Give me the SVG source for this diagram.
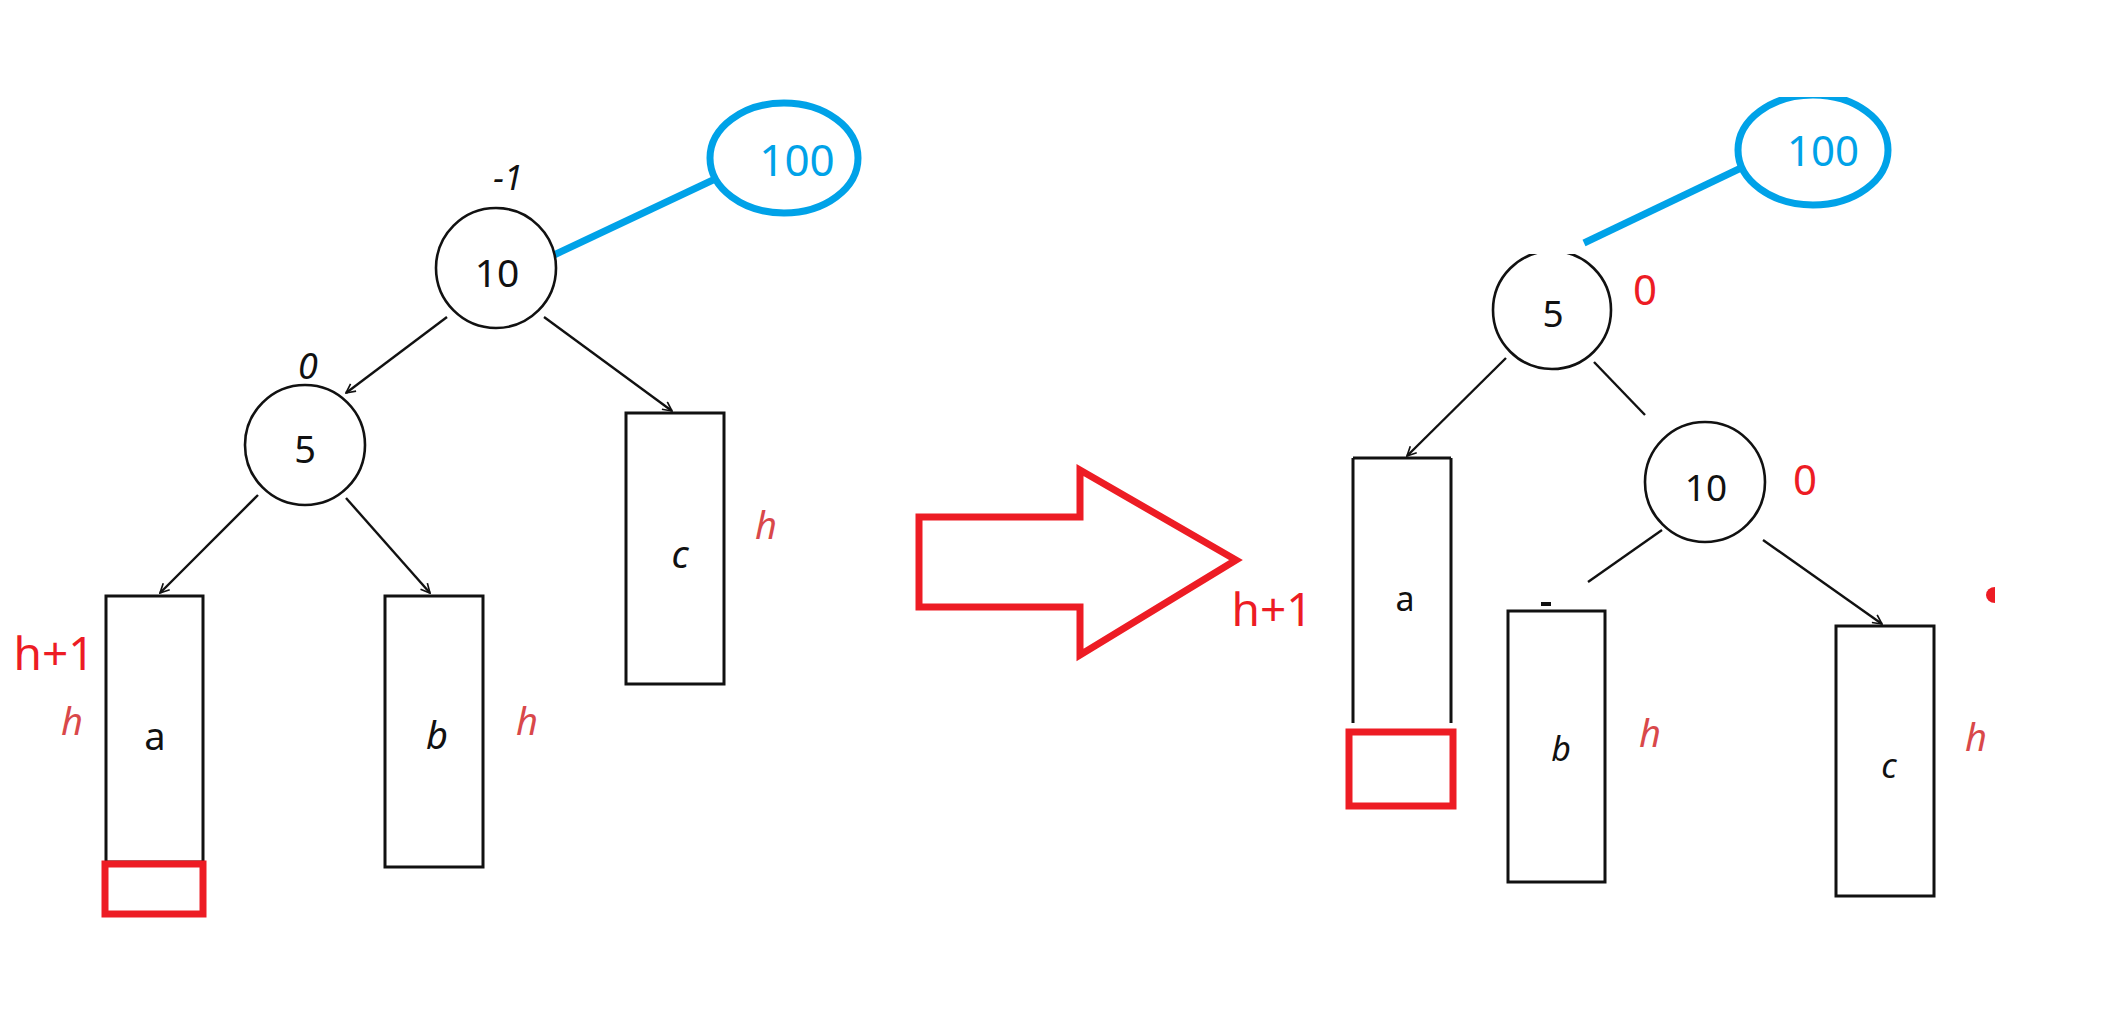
<svg xmlns="http://www.w3.org/2000/svg" width="2101" height="1025" viewBox="0 0 2101 1025">
<style>
.node{fill:#fff;stroke:#111;stroke-width:2.6}
.box{fill:#fff;stroke:#111;stroke-width:3}
.edge{stroke:#111;stroke-width:2.4;fill:none}
.arr{marker-end:url(#ah)}
.blue{stroke:#00a2e8;stroke-width:7;fill:none}
.red{stroke:#ed1c24;stroke-width:7;fill:none}
.t{font-family:"Noto Sans","DejaVu Sans",sans-serif;fill:#111;text-anchor:middle;dominant-baseline:central}
.ti{font-family:"Noto Sans","DejaVu Sans",sans-serif;font-style:italic;fill:#111;text-anchor:middle;dominant-baseline:central}
.h{font-family:"Noto Sans","DejaVu Sans",sans-serif;font-style:italic;fill:#d9484a;font-size:38px;text-anchor:middle;dominant-baseline:central}
.rt{font-family:"Noto Sans","DejaVu Sans",sans-serif;fill:#ed1c24;text-anchor:middle;dominant-baseline:central}
.bt{font-family:"Noto Sans","DejaVu Sans",sans-serif;fill:#00a2e8;text-anchor:middle;dominant-baseline:central}
</style>
<defs>
<marker id="ah" viewBox="0 0 12 12" refX="11" refY="6" markerWidth="11" markerHeight="11" markerUnits="userSpaceOnUse" orient="auto">
<path d="M1,1 L11,6 L1,11" fill="none" stroke="#111" stroke-width="1.8"/>
</marker>
<clipPath id="clipB"><rect x="1700" y="97" width="250" height="150"/></clipPath>
<clipPath id="clip5"><rect x="1480" y="254" width="150" height="130"/></clipPath>
</defs>
<rect width="2101" height="1025" fill="#fff"/>

<g id="connectors">
<line class="edge arr" x1="447" y1="317" x2="346" y2="393"/>
<line class="edge arr" x1="544" y1="317" x2="672" y2="411"/>
<line class="edge arr" x1="258" y1="495" x2="160" y2="593"/>
<line class="edge arr" x1="346" y1="498" x2="430" y2="593"/>
<line class="blue" x1="554" y1="255" x2="713" y2="180"/>
<line class="edge arr" x1="1506" y1="358" x2="1407" y2="456"/>
<line class="edge" x1="1594" y1="362" x2="1645" y2="415"/>
<line class="edge" x1="1662" y1="530" x2="1588" y2="582"/>
<line x1="1541" y1="604" x2="1551" y2="604" stroke="#111" stroke-width="4"/>
<line class="edge arr" x1="1763" y1="540" x2="1882" y2="624"/>
<line class="blue" x1="1584" y1="243" x2="1741" y2="168"/>
</g>

<g id="L10">
<circle class="node" cx="496" cy="268" r="60"/>
<text class="t" x="497" y="271" font-size="39">10</text>
<text class="ti" x="508" y="177" font-size="34">-1</text>
</g>
<g id="L100">
<ellipse class="blue" cx="784" cy="158" rx="74" ry="55"/>
<text class="bt" x="797" y="159" font-size="44">100</text>
</g>
<g id="L5">
<circle class="node" cx="305" cy="445" r="60"/>
<text class="t" x="305" y="448" font-size="38">5</text>
<text class="ti" x="308" y="365" font-size="36">0</text>
</g>
<g id="La">
<rect class="box" x="106" y="596" width="97" height="266"/>
<text class="t" x="155" y="735" font-size="38">a</text>
<text class="h" x="72" y="720">h</text>
<text class="rt" x="54" y="652" font-size="46">h+1</text>
<rect class="red" x="105" y="864" width="98" height="50"/>
</g>
<g id="Lb">
<rect class="box" x="385" y="596" width="98" height="271"/>
<text class="ti" x="437" y="734" font-size="38">b</text>
<text class="h" x="527" y="720">h</text>
</g>
<g id="Lc">
<rect class="box" x="626" y="413" width="98" height="271"/>
<text class="ti" x="680" y="553" font-size="38">c</text>
<text class="h" x="766" y="524">h</text>
</g>

<g id="bigArrow">
<polygon class="red" points="919,517 1080,517 1080,470 1236,560 1080,655 1080,607 919,607"/>
</g>

<g id="R100">
<ellipse class="blue" cx="1813" cy="150" rx="75" ry="55" clip-path="url(#clipB)"/>
<text class="bt" x="1823" y="149" font-size="42">100</text>
</g>
<g id="R5">
<circle class="node" cx="1552" cy="310" r="59" clip-path="url(#clip5)"/>
<text class="t" x="1553" y="312" font-size="37">5</text>
<text class="rt" x="1645" y="288" font-size="42">0</text>
</g>
<g id="R10">
<circle class="node" cx="1705" cy="482" r="60"/>
<text class="t" x="1706" y="486" font-size="37">10</text>
<text class="rt" x="1805" y="478" font-size="42">0</text>
</g>
<g id="Ra">
<path d="M1353,458 L1451,458 M1353,458 L1353,723 M1451,458 L1451,723" fill="none" stroke="#111" stroke-width="3"/>
<text class="t" x="1405" y="598" font-size="34">a</text>
<text class="rt" x="1272" y="608" font-size="46">h+1</text>
<rect class="red" x="1349" y="732" width="104" height="74"/>
</g>
<g id="Rb">
<rect class="box" x="1508" y="611" width="97" height="271"/>
<text class="ti" x="1561" y="748" font-size="34">b</text>
<text class="h" x="1650" y="732">h</text>
</g>
<g id="Rc">
<rect class="box" x="1836" y="626" width="98" height="270"/>
<text class="ti" x="1889" y="765" font-size="34">c</text>
<text class="h" x="1976" y="736">h</text>
</g>
<path d="M1995,587 A9,8 0 0 0 1995,603 Z" fill="#ed1c24"/>
</svg>
